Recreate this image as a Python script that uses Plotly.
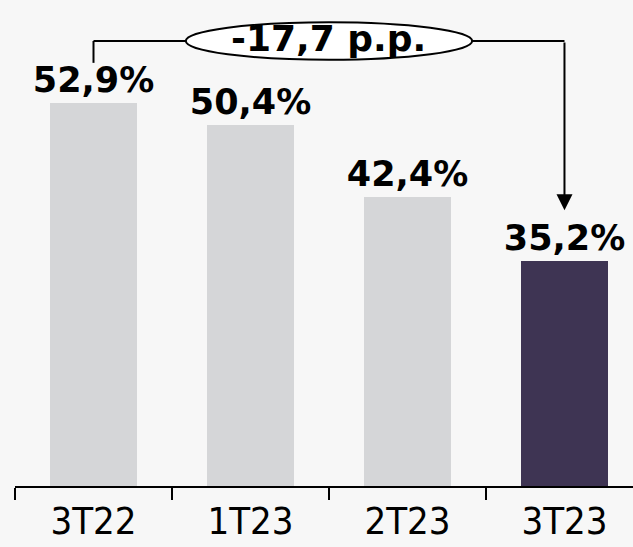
import plotly.graph_objects as go

categories = ["3T22", "1T23", "2T23", "3T23"]
values = [52.9, 50.4, 42.4, 35.2]
value_labels = ["52,9%", "50,4%", "42,4%", "35,2%"]
bar_colors = ["#D5D6D8", "#D5D6D8", "#D5D6D8", "#3E3453"]
delta_label = "-17,7 p.p."

BG = "#F7F7F7"
FONT = "DejaVu Sans"

fig = go.Figure()
fig.add_trace(go.Bar(
    x=categories,
    y=values,
    width=0.56,
    marker=dict(color=bar_colors, line=dict(width=0)),
    text=value_labels,
    textposition="outside",
    constraintext="none",
    textfont=dict(family=FONT, size=35, color="#000000", weight="bold"),
    cliponaxis=False,
    hoverinfo="skip",
))

# bracket from first bar to last bar
first, last = 0, len(values) - 1
mid = (first + last) / 2
y_br = max(values) + 6.95
y_left_end = max(values) + 4.5
y_tip = values[last] + 5.7
ell_half_w, ell_half_h = 0.912, 2.1

line = dict(color="#000000", width=2)
fig.add_shape(type="line", xref="x", yref="y", x0=first, x1=first, y0=y_left_end, y1=y_br, line=line)
fig.add_shape(type="line", xref="x", yref="y", x0=first, x1=mid - ell_half_w, y0=y_br, y1=y_br, line=line)
fig.add_shape(type="line", xref="x", yref="y", x0=mid + ell_half_w, x1=last, y0=y_br, y1=y_br, line=line)
fig.add_shape(type="circle", xref="x", yref="y",
              x0=mid - ell_half_w, x1=mid + ell_half_w,
              y0=y_br - ell_half_h, y1=y_br + ell_half_h,
              fillcolor="#FFFFFF", line=line)
fig.add_annotation(x=last, y=y_tip, ax=last, ay=y_br, xref="x", yref="y", axref="x", ayref="y",
                   text="", showarrow=True, arrowhead=2, arrowsize=1.6, arrowwidth=2,
                   arrowcolor="#000000")
fig.add_annotation(x=mid, y=y_br + 0.3, xref="x", yref="y", text=delta_label, showarrow=False,
                   font=dict(family=FONT, size=36, color="#000000", weight="bold"))

fig.update_layout(
    width=633, height=547,
    margin=dict(l=15, r=0, t=0, b=61),
    paper_bgcolor=BG, plot_bgcolor=BG,
    showlegend=False,
    bargap=0,
    xaxis=dict(
        type="category",
        automargin=False,
        range=[-0.5, 3.5 - 10 / 157.3],
        tickson="boundaries", ticks="outside", ticklen=12, tickcolor="#000000", tickwidth=1.5,
        ticklabelstandoff=1,
        showline=True, linecolor="#000000", linewidth=1.5,
        showgrid=False, zeroline=False,
        tickfont=dict(family="DejaVu Sans Condensed, " + FONT, size=38, color="#000000"),
    ),
    yaxis=dict(range=[10, 64.44], visible=False, showgrid=False, zeroline=False),
)

fig.write_html("out.html", config={"displayModeBar": False},
               post_script="document.body.style.margin='0';")
